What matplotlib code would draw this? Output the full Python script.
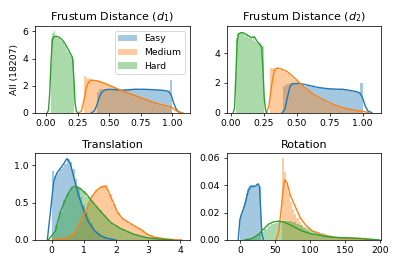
import matplotlib
matplotlib.use('Agg')
import matplotlib.pyplot as plt
import numpy as np

colors = {'Easy': '#1f77b4', 'Medium': '#ff7f0e', 'Hard': '#2ca02c'}
levels = ['Easy', 'Medium', 'Hard']

# ---- Frustum distance d1 ----
d1_kde_x = {
    'Easy': [0.36, 0.38, 0.40, 0.42, 0.44, 0.47, 0.50, 0.55, 0.60, 0.65, 0.70, 0.75, 0.80, 0.85, 0.90, 0.94, 0.97, 0.99, 1.01, 1.03, 1.05, 1.07],
    'Medium': [0.26, 0.28, 0.30, 0.32, 0.34, 0.36, 0.40, 0.45, 0.50, 0.55, 0.60, 0.65, 0.70, 0.75, 0.80, 0.85, 0.90, 0.95, 1.00, 1.03, 1.06, 1.08],
    'Hard': [0.01, 0.02, 0.03, 0.04, 0.05, 0.06, 0.08, 0.10, 0.12, 0.14, 0.16, 0.18, 0.20, 0.21, 0.22, 0.23, 0.24, 0.25],
}
d1_kde_y = {
    'Easy': [0, 0.1, 0.5, 1.1, 1.5, 1.70, 1.72, 1.70, 1.66, 1.68, 1.73, 1.73, 1.72, 1.69, 1.67, 1.63, 1.57, 1.3, 0.7, 0.25, 0.05, 0],
    'Medium': [0, 0.1, 0.9, 1.9, 2.3, 2.40, 2.36, 2.22, 2.02, 1.82, 1.62, 1.45, 1.28, 1.10, 0.93, 0.76, 0.62, 0.50, 0.36, 0.12, 0.02, 0],
    'Hard': [0, 0.2, 1.5, 3.8, 5.3, 5.6, 5.65, 5.6, 5.45, 5.25, 4.95, 4.6, 4.25, 4.05, 2.6, 0.7, 0.1, 0],
}
d1_hist_range = {'Easy': (0.40, 1.00), 'Medium': (0.30, 1.00), 'Hard': (0.04, 0.22)}
d1_hist = {
    'Easy': [1.55, 1.72, 1.75, 1.70, 1.73, 1.68, 1.72, 1.66, 1.64, 1.68, 1.70, 1.72, 1.76, 1.74, 1.75,
             1.72, 1.73, 1.70, 1.71, 1.69, 1.68, 1.70, 1.66, 1.67, 1.64, 1.65, 1.60, 1.62, 1.58, 2.40],
    'Medium': [2.72, 2.55, 2.50, 2.42, 2.38, 2.33, 2.28, 2.20, 2.12, 2.05, 1.98, 1.90, 1.82, 1.74, 1.66,
               1.58, 1.50, 1.42, 1.35, 1.28, 1.20, 1.13, 1.06, 0.98, 0.90, 0.84, 0.77, 0.70, 0.64, 0.58,
               0.52, 0.46, 0.41, 0.36, 0.55],
    'Hard': [5.5, 5.9, 6.05, 5.6, 5.7, 5.5, 5.6, 5.4, 5.2, 5.3, 5.0, 4.9, 4.7, 4.5, 4.3, 4.2, 4.1, 3.9],
}

# ---- Frustum distance d2 ----
d2_kde_x = {
    'Easy': [0.39, 0.41, 0.43, 0.45, 0.47, 0.52, 0.56, 0.60, 0.65, 0.70, 0.75, 0.80, 0.85, 0.90, 0.95, 0.98, 1.00, 1.02, 1.04, 1.07],
    'Medium': [0.27, 0.29, 0.31, 0.33, 0.35, 0.38, 0.43, 0.47, 0.50, 0.55, 0.62, 0.70, 0.78, 0.85, 0.93, 1.00, 1.05],
    'Hard': [0.02, 0.03, 0.04, 0.05, 0.06, 0.08, 0.10, 0.12, 0.14, 0.16, 0.18, 0.20, 0.22, 0.235, 0.245, 0.255, 0.265, 0.275],
}
d2_kde_y = {
    'Easy': [0, 0.2, 1.0, 1.75, 1.95, 1.96, 1.9, 1.82, 1.72, 1.65, 1.6, 1.58, 1.57, 1.5, 1.42, 1.32, 1.0, 0.45, 0.12, 0],
    'Medium': [0, 0.4, 1.8, 2.8, 3.0, 2.95, 2.75, 2.45, 2.2, 1.78, 1.28, 0.88, 0.55, 0.33, 0.18, 0.09, 0],
    'Hard': [0, 0.3, 2.5, 4.8, 5.3, 5.38, 5.35, 5.25, 5.15, 5.05, 5.1, 4.8, 4.6, 4.4, 3.0, 1.0, 0.15, 0],
}
d2_hist_range = {'Easy': (0.40, 1.00), 'Medium': (0.30, 1.00), 'Hard': (0.04, 0.25)}
d2_hist = {
    'Easy': [1.8, 1.95, 2.0, 1.98, 1.95, 1.9, 1.88, 1.85, 1.8, 1.76, 1.72, 1.7, 1.68, 1.65, 1.66,
             1.6, 1.62, 1.58, 1.6, 1.57, 1.55, 1.56, 1.52, 1.5, 1.48, 1.45, 1.42, 1.38, 1.35, 2.0],
    'Medium': [3.0, 3.0, 2.95, 2.9, 2.85, 2.75, 2.65, 2.5, 2.35, 2.2, 2.05, 1.9, 1.75, 1.6, 1.45,
               1.3, 1.18, 1.05, 0.95, 0.85, 0.75, 0.65, 0.57, 0.5, 0.43, 0.37, 0.32, 0.27, 0.23, 0.2,
               0.17, 0.14, 0.12, 0.1, 0.15],
    'Hard': [5.0, 5.3, 5.35, 5.4, 5.3, 5.35, 5.25, 5.1, 5.2, 5.0, 5.15, 5.05, 4.9, 5.1, 4.8, 4.7,
             4.75, 4.6, 4.65, 4.55, 4.5],
}

# ---- Translation ----
tr_kde_x = {
    'Easy': [-0.13, 0.02, 0.07, 0.17, 0.33, 0.48, 0.58, 0.68, 0.83, 0.99, 1.14, 1.34, 1.55, 1.75, 2.0],
    'Medium': [0.02, 0.43, 0.63, 0.78, 0.94, 1.09, 1.24, 1.39, 1.55, 1.67, 1.75, 1.9, 2.05, 2.2, 2.41,
               2.67, 2.82, 2.97, 3.17, 3.48, 3.78, 4.04],
    'Hard': [-0.1, 0.12, 0.27, 0.48, 0.63, 0.73, 0.89, 1.09, 1.29, 1.55, 1.85, 2.16, 2.56, 2.97, 3.38, 3.78],
}
tr_kde_y = {
    'Easy': [0, 0.59, 0.79, 0.9, 0.99, 1.09, 1.03, 0.86, 0.61, 0.41, 0.25, 0.12, 0.05, 0.02, 0],
    'Medium': [0, 0.02, 0.06, 0.14, 0.28, 0.41, 0.57, 0.66, 0.71, 0.72, 0.67, 0.52, 0.37, 0.29, 0.23,
               0.165, 0.13, 0.076, 0.04, 0.018, 0.004, 0],
    'Hard': [0, 0.12, 0.37, 0.59, 0.7, 0.72, 0.69, 0.61, 0.5, 0.37, 0.23, 0.15, 0.076, 0.03, 0.01, 0],
}
tr_hist_range = {'Easy': (0.0, 2.0), 'Medium': (0.1, 3.9), 'Hard': (0.0, 3.6)}
tr_hist = {
    'Easy': [0.92, 0.85, 0.9, 0.95, 0.98, 1.02, 1.08, 1.05, 0.95, 0.82, 0.7, 0.58, 0.47, 0.38, 0.3,
             0.23, 0.17, 0.12, 0.09, 0.06, 0.04, 0.03, 0.02, 0.01, 0.01],
    'Medium': [0.003, 0.008, 0.02, 0.04, 0.07, 0.13, 0.24, 0.37, 0.5, 0.6, 0.67, 0.72, 0.73, 0.62, 0.48,
               0.37, 0.3, 0.26, 0.22, 0.19, 0.16, 0.13, 0.09, 0.06, 0.04, 0.025, 0.015, 0.01, 0.006, 0.003],
    'Hard': [0.08, 0.2, 0.38, 0.53, 0.63, 0.7, 0.72, 0.7, 0.65, 0.58, 0.52, 0.46, 0.4, 0.34, 0.28,
             0.23, 0.19, 0.16, 0.14, 0.11, 0.09, 0.075, 0.06, 0.045, 0.035, 0.025, 0.018, 0.012, 0.008, 0.005],
}

# ---- Rotation ----
rot_kde_x = {
    'Easy': [-2.4, 0, 2.4, 7.2, 12, 16, 19, 22.6, 25.5, 28, 30, 31.3, 33.7],
    'Medium': [51.6, 55.4, 59, 61.7, 64, 67.5, 72, 79.5, 86.7, 94, 103.6, 118, 132.5, 151.8, 166, 180, 195],
    'Hard': [7, 17, 26.5, 33.7, 41, 48, 55, 62.7, 70, 79.5, 89, 101, 113, 127.7, 142, 156.6, 171, 185.5, 200],
}
rot_kde_y = {
    'Easy': [0, 0.015, 0.019, 0.026, 0.036, 0.0395, 0.039, 0.0395, 0.041, 0.0395, 0.02, 0.005, 0],
    'Medium': [0, 0.0054, 0.022, 0.036, 0.044, 0.042, 0.033, 0.024, 0.016, 0.011, 0.0066, 0.0034, 0.002,
               0.0012, 0.001, 0.0005, 0],
    'Hard': [0, 0.001, 0.004, 0.0078, 0.0115, 0.0132, 0.0137, 0.0132, 0.0115, 0.009, 0.0066, 0.0046,
             0.0034, 0.0022, 0.0017, 0.0015, 0.0012, 0.0005, 0],
}
rot_hist_range = {'Easy': (0.0, 30.0), 'Medium': (60.0, 180.0), 'Hard': (10.0, 190.0)}
rot_hist = {
    'Easy': [0.018, 0.02, 0.022, 0.025, 0.028, 0.031, 0.034, 0.037, 0.039, 0.04, 0.039, 0.039, 0.04,
             0.04, 0.039, 0.04, 0.041, 0.042, 0.04, 0.039],
    'Medium': [0.06, 0.05, 0.04, 0.034, 0.028, 0.023, 0.019, 0.016, 0.013, 0.011, 0.009, 0.0075, 0.0063,
               0.0053, 0.0045, 0.0038, 0.0032, 0.0028, 0.0025, 0.0022, 0.002, 0.0018, 0.0016, 0.0015,
               0.0014, 0.0013, 0.0012, 0.0012, 0.0011, 0.0011, 0.001, 0.001, 0.0009, 0.0008, 0.0007,
               0.0006, 0.0005, 0.0004, 0.0003, 0.0003],
    'Hard': [0.0005, 0.0012, 0.0025, 0.004, 0.006, 0.008, 0.010, 0.0115, 0.0125, 0.013, 0.0135, 0.0138,
             0.0135, 0.013, 0.012, 0.011, 0.0095, 0.0085, 0.0075, 0.0065, 0.0055, 0.0048, 0.004, 0.0035,
             0.003, 0.0025, 0.0022, 0.002, 0.0018, 0.0016, 0.0015, 0.0014, 0.0012, 0.001, 0.0007, 0.0004],
}


def dist(ax, kde_x, kde_y, hist_range, hist):
    for lvl in levels:
        h = np.array(hist[lvl])
        edges = np.linspace(hist_range[lvl][0], hist_range[lvl][1], len(h) + 1)
        ax.bar(edges[:-1], h, width=np.diff(edges), align='edge', color=colors[lvl],
               alpha=0.4, linewidth=0, label=lvl)
        ax.plot(kde_x[lvl], kde_y[lvl], color=colors[lvl], linewidth=1.5)


fig, axes = plt.subplots(2, 2, figsize=(6, 4), dpi=66.5)
plt.subplots_adjust(left=0.088, right=0.955, top=0.902, bottom=0.098, wspace=0.24, hspace=0.47)

ax = axes[0, 0]
dist(ax, d1_kde_x, d1_kde_y, d1_hist_range, d1_hist)
ax.set_xlim(-0.086, 1.135)
ax.set_ylim(0, 6.4)
ax.set_yticks([0, 2, 4, 6])
ax.set_xticks([0, 0.25, 0.5, 0.75, 1.0])
ax.set_title('Frustum Distance ($d_1$)')
ax.set_ylabel('All (18207)')
ax.legend(loc='upper right')

ax = axes[0, 1]
dist(ax, d2_kde_x, d2_kde_y, d2_hist_range, d2_hist)
ax.set_xlim(-0.03, 1.14)
ax.set_ylim(0, 5.82)
ax.set_yticks([0, 2, 4])
ax.set_xticks([0, 0.25, 0.5, 0.75, 1.0])
ax.set_title('Frustum Distance ($d_2$)')

ax = axes[1, 0]
dist(ax, tr_kde_x, tr_kde_y, tr_hist_range, tr_hist)
ax.set_xlim(-0.51, 4.29)
ax.set_ylim(0, 1.16)
ax.set_yticks([0, 0.5, 1.0])
ax.set_title('Translation')

ax = axes[1, 1]
dist(ax, rot_kde_x, rot_kde_y, rot_hist_range, rot_hist)
ax.set_xlim(-19, 202)
ax.set_ylim(0, 0.0634)
ax.set_yticks([0, 0.02, 0.04, 0.06])
ax.set_title('Rotation')

plt.savefig('out.png', dpi=66.5)
